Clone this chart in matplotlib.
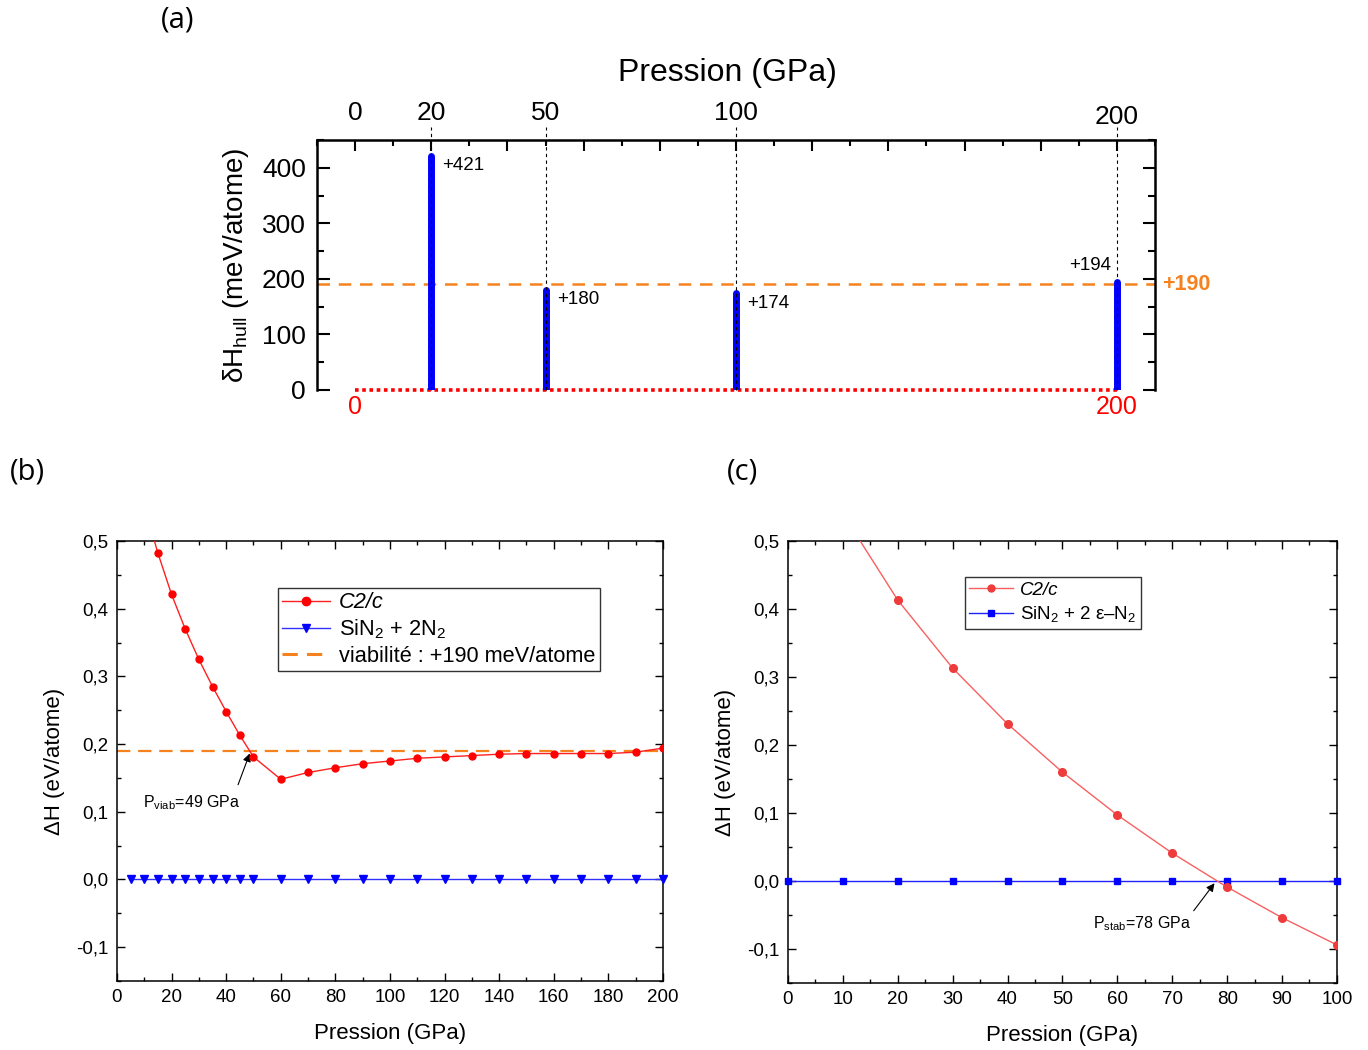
import numpy as np
import matplotlib.pyplot as plt
from matplotlib.ticker import MultipleLocator, FuncFormatter
from matplotlib.lines import Line2D
import matplotlib.transforms as mtransforms

plt.rcParams['font.family'] = ['Liberation Sans', 'DejaVu Sans']
plt.rcParams['mathtext.fontset'] = 'custom'
plt.rcParams['mathtext.rm'] = 'Liberation Sans'
plt.rcParams['mathtext.it'] = 'Liberation Sans:italic'
plt.rcParams['mathtext.default'] = 'regular'

# (a) enthalpie au-dessus de l'enveloppe convexe
p_a = [20, 50, 100, 200]
dh_hull = [421, 180, 174, 194]
seuil = 190
p_labels_haut = [0, 20, 50, 100, 200]

# (b) C2/c vs SiN2 + 2N2, 0-200 GPa
p_b_c2c = [10, 15, 20, 25, 30, 35, 40, 45, 50, 60, 70, 80, 90, 100,
           110, 120, 130, 140, 150, 160, 170, 180, 190, 200]
dh_b_c2c = [0.552, 0.482, 0.421, 0.370, 0.325, 0.285, 0.248, 0.213, 0.181,
            0.148, 0.158, 0.165, 0.171, 0.175, 0.179, 0.181, 0.183, 0.185,
            0.186, 0.186, 0.186, 0.186, 0.188, 0.194]
p_b_ref = [5, 10, 15, 20, 25, 30, 35, 40, 45, 50, 60, 70, 80, 90, 100,
           110, 120, 130, 140, 150, 160, 170, 180, 190, 200]
dh_b_ref = [0.0, 0.0, 0.0, 0.0, 0.0, 0.0, 0.0, 0.0, 0.0, 0.0, 0.0, 0.0, 0.0,
            0.0, 0.0, 0.0, 0.0, 0.0, 0.0, 0.0, 0.0, 0.0, 0.0, 0.0, 0.0]
viab = 0.19
p_viab = 49

# (c) C2/c vs SiN2 + 2 eps-N2, 0-100 GPa
p_c_c2c = [10, 20, 30, 40, 50, 60, 70, 80, 90, 100]
dh_c_c2c = [0.54, 0.413, 0.313, 0.231, 0.160, 0.097, 0.041, -0.009, -0.054, -0.094]
p_c_ref = [0, 10, 20, 30, 40, 50, 60, 70, 80, 90, 100]
dh_c_ref = [0.0, 0.0, 0.0, 0.0, 0.0, 0.0, 0.0, 0.0, 0.0, 0.0, 0.0]
p_stab = 78

ORANGE = '#f5821f'


def virgule(v, pos):
    s = f'{v:.1f}'
    if s == '-0.0':
        s = '0.0'
    return s.replace('.', ',')


fig = plt.figure(figsize=(13.68, 10.5), dpi=100)

# ---------------- (a) ----------------
ax = fig.add_axes([0.2317, 0.6286, 0.6126, 0.2381])
ax.set_xlim(-10, 210)
ax.set_ylim(0, 450)
ax.spines['bottom'].set_visible(False)
for s in ['top', 'left', 'right']:
    ax.spines[s].set_linewidth(1.8)
ax.xaxis.set_ticks_position('top')
ax.xaxis.set_major_locator(MultipleLocator(20))
ax.xaxis.set_minor_locator(MultipleLocator(10))
ax.xaxis.set_major_formatter(FuncFormatter(lambda v, p: ''))
ax.yaxis.set_major_locator(MultipleLocator(100))
ax.yaxis.set_minor_locator(MultipleLocator(50))
ax.tick_params(axis='x', which='major', direction='in', length=8, width=1.5)
ax.tick_params(axis='x', which='minor', direction='in', length=4, width=1.5)
ax.tick_params(axis='y', which='major', direction='in', length=9, width=1.5,
               left=True, right=True, labelsize=19, pad=8)
ax.tick_params(axis='y', which='minor', direction='in', length=5, width=1.5,
               left=True, right=True)
ax.set_ylabel('δH$_{hull}$ (meV/atome)', fontsize=20, labelpad=8)

trans = mtransforms.blended_transform_factory(ax.transData, ax.transAxes)
ax.axhline(seuil, color=ORANGE, lw=1.8, ls=(0, (5, 3.5)), zorder=2)
ax.plot([0, 200], [0, 0], color='red', lw=2.6, ls=(0, (1, 1)), clip_on=False, zorder=3)
ax.vlines(p_a, 0, dh_hull, color='blue', lw=5, capstyle='round', zorder=4)
for p in p_a:
    ax.plot([p, p], [0, 1.05], transform=trans, color='black', lw=0.8,
            ls=(0, (3, 3)), clip_on=False, zorder=5)
for p in p_labels_haut:
    yy = 1.092 if p == 200 else 1.108
    ax.text(p, yy, str(p), transform=trans, ha='center', va='center', fontsize=19)
ax.text(0.49, 1.268, 'Pression (GPa)', transform=ax.transAxes, ha='center',
        va='center', fontsize=23)
for p, v in zip(p_a, dh_hull):
    if p == 200:
        ax.annotate(f'+{v}', (p, v), xytext=(-4, 12), textcoords='offset points',
                    ha='right', va='center', fontsize=13.5)
    else:
        ax.annotate(f'+{v}', (p, v), xytext=(8, -7), textcoords='offset points',
                    ha='left', va='center', fontsize=13.5)
ax.text(0, -0.068, '0', transform=trans, color='red', ha='center', va='center', fontsize=18)
ax.text(200, -0.068, '200', transform=trans, color='red', ha='center', va='center', fontsize=18)
ax.text(1.008, seuil, f'+{seuil}', transform=mtransforms.blended_transform_factory(
    ax.transAxes, ax.transData), color=ORANGE, fontweight='bold', ha='left',
    va='center', fontsize=15.5)


def style_bc(ax):
    for s in ax.spines.values():
        s.set_linewidth(1.1)
    ax.tick_params(which='major', direction='in', length=6, width=1.0,
                   top=True, right=True, labelsize=13.5, pad=6)
    ax.tick_params(which='minor', direction='in', length=3, width=1.0,
                   top=True, right=True)
    ax.set_ylim(-0.15, 0.5)
    ax.yaxis.set_major_locator(MultipleLocator(0.1))
    ax.yaxis.set_minor_locator(MultipleLocator(0.05))
    ax.yaxis.set_major_formatter(FuncFormatter(virgule))
    ax.set_xlabel('Pression (GPa)', fontsize=16, labelpad=12)
    ax.set_ylabel('ΔH (eV/atome)', fontsize=16, labelpad=8)


# ---------------- (b) ----------------
axb = fig.add_axes([0.0855, 0.0657, 0.3991, 0.4191])
style_bc(axb)
axb.set_xlim(0, 200)
axb.xaxis.set_major_locator(MultipleLocator(20))
axb.xaxis.set_minor_locator(MultipleLocator(10))
axb.axhline(viab, color=ORANGE, lw=1.6, ls=(0, (6, 3.5)), zorder=2)
axb.plot(p_b_ref, dh_b_ref, color='#3030ff', lw=1.0, marker='v', ms=5.5,
         mfc='blue', mec='blue', zorder=3, clip_on=False)
axb.plot(p_b_c2c, dh_b_c2c, color='#ff2020', lw=1.0, marker='o', ms=5,
         mfc='red', mec='red', zorder=4)
axb.annotate('', xy=(p_viab, viab), xytext=(44, 0.136),
             arrowprops=dict(arrowstyle='-|>', color='black', lw=0.8, mutation_scale=12))
axb.text(27.5, 0.113, 'P$_{viab}$=49 GPa', ha='center', va='center', fontsize=11.5)
hb = [Line2D([], [], color='#ff2020', lw=1.0, marker='o', ms=6, mfc='red', mec='red'),
      Line2D([], [], color='#3030ff', lw=1.0, marker='v', ms=6, mfc='blue', mec='blue'),
      Line2D([], [], color=ORANGE, lw=2.2, ls=(0, (5, 3)))]
lb = ['C2/c', 'SiN$_2$ + 2N$_2$', 'viabilité : +190 meV/atome']
leg = axb.legend(hb, lb, loc='upper left', bbox_to_anchor=(0.295, 0.893),
                 fontsize=15.7, frameon=True, fancybox=False, edgecolor='black',
                 handlelength=2.2, labelspacing=0.2, borderpad=0.2,
                 handletextpad=0.4, borderaxespad=0)
leg.get_frame().set_linewidth(1.0)
leg.get_texts()[0].set_fontstyle('italic')

# ---------------- (c) ----------------
axc = fig.add_axes([0.576, 0.0638, 0.4013, 0.421])
style_bc(axc)
axc.set_xlim(0, 100)
axc.xaxis.set_major_locator(MultipleLocator(10))
axc.xaxis.set_minor_locator(MultipleLocator(5))
axc.plot(p_c_ref, dh_c_ref, color='#2020ff', lw=1.0, marker='s', ms=4.5,
         mfc='blue', mec='blue', zorder=3, clip_on=False)
axc.plot(p_c_c2c, dh_c_c2c, color='#f86060', lw=1.0, marker='o', ms=5.5,
         mfc='#ee3b3b', mec='#ee3b3b', zorder=4, clip_on=True)
axc.annotate('', xy=(p_stab, 0), xytext=(73.6, -0.047),
             arrowprops=dict(arrowstyle='-|>', color='black', lw=0.8, mutation_scale=12))
axc.text(64.5, -0.062, 'P$_{stab}$=78 GPa', ha='center', va='center', fontsize=11.5)
hc = [Line2D([], [], color='#f86060', lw=1.0, marker='o', ms=5, mfc='#ee3b3b', mec='#ee3b3b'),
      Line2D([], [], color='#2020ff', lw=1.0, marker='s', ms=4.5, mfc='blue', mec='blue')]
lc = ['C2/c', 'SiN$_2$ + 2 ε–N$_2$']
leg = axc.legend(hc, lc, loc='upper left', bbox_to_anchor=(0.322, 0.919),
                 fontsize=13.5, frameon=True, fancybox=False, edgecolor='black',
                 handlelength=2.3, labelspacing=0.3, borderpad=0.25,
                 handletextpad=0.4, borderaxespad=0)
leg.get_frame().set_linewidth(1.0)
leg.get_texts()[0].set_fontstyle('italic')

for txt, x, y in [('(a)', 178, 20), ('(b)', 27, 472), ('(c)', 742, 472)]:
    fig.text(x / 1368, 1 - y / 1050, txt, ha='center', va='center', fontsize=21,
             family=['Open Sans', 'DejaVu Sans'])

fig.savefig('out.png', dpi=100)
